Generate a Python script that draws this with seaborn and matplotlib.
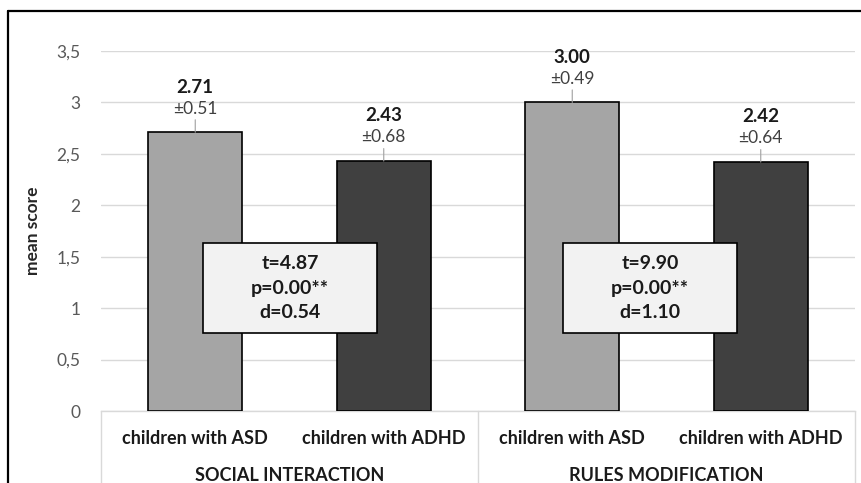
import matplotlib
matplotlib.use("Agg")
import matplotlib.pyplot as plt
import seaborn as sns
import pandas as pd
from matplotlib.patches import Rectangle
from matplotlib.lines import Line2D

# data
groups = ["SOCIAL INTERACTION", "SOCIAL INTERACTION", "RULES MODIFICATION", "RULES MODIFICATION"]
children = ["children with ASD", "children with ADHD", "children with ASD", "children with ADHD"]
means = [2.71, 2.43, 3.00, 2.42]
sds = [0.51, 0.68, 0.49, 0.64]
group_names = ["SOCIAL INTERACTION", "RULES MODIFICATION"]
t_vals = ["4.87", "9.90"]
p_vals = ["0.00**", "0.00**"]
d_vals = ["0.54", "1.10"]
y_ticks = [0, 0.5, 1, 1.5, 2, 2.5, 3, 3.5]
y_tick_labels = ["0", "0,5", "1", "1,5", "2", "2,5", "3", "3,5"]

sns.set_style("white")
plt.rcParams["font.family"] = ["Lato", "DejaVu Sans"]

df = pd.DataFrame({"group": groups, "child": children, "score": means})
df["key"] = [f"{g}|{c}" for g, c in zip(groups, children)]

fig = plt.figure(figsize=(8.62, 4.83), dpi=100)
ax = fig.add_axes([101 / 862, 1 - 411 / 483, 754 / 862, 360 / 483])

sns.barplot(data=df, x="key", y="score", hue="child", order=list(df["key"]),
            palette={"children with ASD": "#a5a5a5", "children with ADHD": "#404040"},
            width=0.5, edgecolor="black", linewidth=1.2, legend=False, ax=ax, zorder=3)

ax.set_xlim(-0.5, 3.5)
ax.set_ylim(0, 3.5)
ax.set_yticks(y_ticks)
ax.set_yticklabels(y_tick_labels, fontsize=12.5, color="#595959")
ax.yaxis.grid(True, color="#d9d9d9", lw=1)
ax.set_axisbelow(True)
ax.tick_params(axis="y", length=0, pad=15)
ax.tick_params(axis="x", length=0, pad=14)
ax.set_xticks(range(len(children)))
ax.set_xticklabels(children, fontsize=13, fontweight="bold", color="#1a1a1a")
ax.set_xlabel("")
ax.set_ylabel("mean score", fontsize=12.5, fontweight="bold", labelpad=11)
for s in ["top", "right", "left"]:
    ax.spines[s].set_visible(False)
ax.spines["bottom"].set_color("#d9d9d9")
ax.spines["bottom"].set_linewidth(1)

# value labels with short leader lines
for i, (m, sd) in enumerate(zip(means, sds)):
    ax.annotate("", xy=(i, m), xytext=(0, 9), textcoords="offset points",
                arrowprops=dict(arrowstyle="-", color="#a0a0a0", lw=0.8, shrinkA=0, shrinkB=0))
    ax.annotate(f"±{sd:.2f}", xy=(i, m), xytext=(0, 17), textcoords="offset points",
                ha="center", va="center", fontsize=12.5, color="#404040")
    ax.annotate(f"{m:.2f}", xy=(i, m), xytext=(0, 32.5), textcoords="offset points",
                ha="center", va="center", fontsize=13.5, fontweight="bold", color="#1a1a1a")

# statistics boxes
box_x = [0.04, 1.95]
for j in range(len(group_names)):
    ax.add_patch(Rectangle((box_x[j], 0.76), 0.925, 0.87, facecolor="#f2f2f2",
                           edgecolor="black", lw=1.2, zorder=5))
    txt = f"t={t_vals[j]}\np={p_vals[j]}\nd={d_vals[j]}"
    ax.text(box_x[j] + 0.4625, 1.195, txt, ha="center", va="center", fontsize=14,
            fontweight="bold", color="#1a1a1a", linespacing=1.55, zorder=6)

# multi-level category axis
trans = ax.get_xaxis_transform()
for xv in [-0.5, 1.5, 3.5]:
    ax.add_line(Line2D([xv, xv], [0, -0.2], transform=trans, color="#d9d9d9",
                       lw=1, clip_on=False))
for j, g in enumerate(group_names):
    ax.text(2 * j + 0.5, -0.18, g, transform=trans, ha="center", va="center",
            fontsize=13, fontweight="bold", color="#1a1a1a")

# outer frame (top and left edges visible)
fig.add_artist(Line2D([8 / 862, 1], [1 - 10.5 / 483, 1 - 10.5 / 483], color="black", lw=1.6))
fig.add_artist(Line2D([8 / 862, 8 / 862], [0, 1 - 10.5 / 483], color="black", lw=1.6))

fig.savefig("out.png", dpi=100)
